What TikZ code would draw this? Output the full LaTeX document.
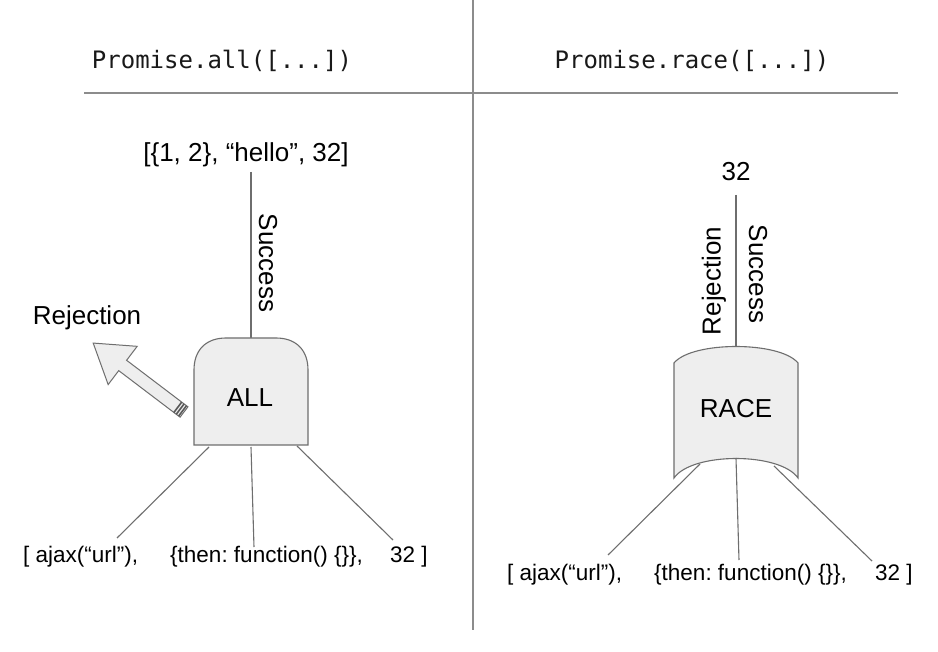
\documentclass[tikz,border=0pt]{standalone}
\usepackage{fontspec}
\setmainfont{Liberation Sans}
\newfontfamily\monof{DejaVu Sans Mono}
\frenchspacing
\definecolor{linec}{HTML}{6E6E6E}
\definecolor{divc}{HTML}{8C8C8C}
\definecolor{fillc}{HTML}{EEEEEE}
\tikzset{
  lbl/.style={inner sep=0pt, font=\fontsize{26}{30}\selectfont, text=black},
  small/.style={inner sep=0pt, font=\fontsize{22.5}{27}\selectfont, text=black},
  ttl/.style={inner sep=0pt, font=\monof\fontsize{24}{28}\selectfont, text=black!90},
  conn/.style={draw=linec, line width=1.1pt},
  shapebox/.style={draw=linec, fill=fillc, line width=1.1pt},
  divline/.style={draw=divc, line width=1.1pt}
}
\begin{document}
\begin{tikzpicture}[x=1pt,y=-1pt]
\useasboundingbox[fill=white] (0,0) rectangle (938,652);
% dividers
\coordinate (vt) at (473,0);
\coordinate (vb) at (473,630);
\coordinate (hl) at (84,93);
\coordinate (hr) at (898,93);
\draw[divline] (vt) -- (vb);
\draw[divline] (hl) -- (hr);
% titles
\node[ttl] (ttlall) at (222,61) {Promise.all([...])};
\node[ttl] (ttlrace) at (692,61) {Promise.race([...])};

% ===== left: ALL =====
\node[lbl] (resall) at (246,155) {[\{1, 2\}, “hello”, 32]};
\coordinate (allres) at (251,172);
\coordinate (alltop) at (251,338);
\draw[conn] (allres) -- (alltop);
\node[lbl, rotate=-90] (succ1) at (268,263) {Success};
\draw[shapebox] (194,445) -- (194,370) .. controls (194,350) and (206,338) .. (226,338)
  -- (276,338) .. controls (296,338) and (308,350) .. (308,370) -- (308,445) -- cycle;
\node[lbl] (all) at (250,398) {ALL};
% rejection block arrow
\node[lbl] (rej1) at (87,318) {Rejection};
\begin{scope}[shift={(184,412)}, rotate=142.8, y=1pt]
  \draw[shapebox, line width=1pt] (0,-6.5) -- (77,-6.5) -- (77,-24) -- (114,0) -- (77,24) -- (77,6.5) -- (0,6.5) -- cycle;
  \foreach \u in {1.8,4.8,7.8}
    \draw[draw=linec!80!black, line width=1.6pt] (\u,-6.5) -- (\u,6.5);
\end{scope}
% children
\coordinate (ab1) at (209,447);
\coordinate (ab2) at (251,447);
\coordinate (ab3) at (297,446);
\coordinate (ae1) at (117,538);
\coordinate (ae2) at (254,547);
\coordinate (ae3) at (393,540);
\draw[conn] (ab1) -- (ae1);
\draw[conn] (ab2) -- (ae2);
\draw[conn] (ab3) -- (ae3);
\node[small, anchor=west] (a1) at (23,557) {[ ajax(“url”),};
\node[small, anchor=west] (a2) at (170,557) {\{then: function() \{\}\},};
\node[small, anchor=west] (a3) at (390,557) {32 ]};

% ===== right: RACE =====
\node[lbl] (resrace) at (736,172) {32};
\coordinate (raceres) at (736,195);
\coordinate (racetop) at (736,347);
\draw[conn] (raceres) -- (racetop);
\node[lbl, rotate=90] (rej2) at (714,281) {Rejection};
\node[lbl, rotate=-90] (succ2) at (758,274) {Success};
\draw[shapebox] (674,363) .. controls (692,341) and (780,341) .. (798,363)
  -- (798,478) .. controls (780,452) and (692,452) .. (674,478) -- cycle;
\node[lbl] (race) at (736,409) {RACE};
\coordinate (rb1) at (700,464);
\coordinate (rb2) at (736,458);
\coordinate (rb3) at (774,466);
\coordinate (re1) at (608,555);
\coordinate (re2) at (739,560);
\coordinate (re3) at (872,561);
\draw[conn] (rb1) -- (re1);
\draw[conn] (rb2) -- (re2);
\draw[conn] (rb3) -- (re3);
\node[small, anchor=west] (b1) at (507,575) {[ ajax(“url”),};
\node[small, anchor=west] (b2) at (654,575) {\{then: function() \{\}\},};
\node[small, anchor=west] (b3) at (875,575) {32 ]};
\end{tikzpicture}
\end{document}
